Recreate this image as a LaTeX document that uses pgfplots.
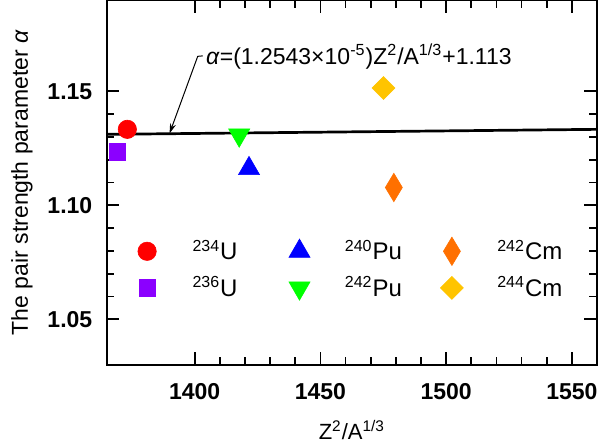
\documentclass[border=0pt]{standalone}
\usepackage{fontspec}
\setmainfont{Liberation Sans}
\usepackage{pgfplots}
\pgfplotsset{compat=1.18}
\usetikzlibrary{arrows.meta}
\definecolor{cred}{RGB}{255,0,0}
\definecolor{cpurple}{RGB}{139,0,255}
\definecolor{cblue}{RGB}{0,0,255}
\definecolor{cgreen}{RGB}{0,255,0}
\definecolor{corange}{RGB}{255,112,0}
\definecolor{cyellow}{RGB}{255,196,0}
\pgfplotsset{
  lgd/.style={only marks,
    legend image code/.code={\path (0pt,0pt) (45pt,0pt); \draw[mark repeat=2,mark phase=2,##1] plot coordinates {(0pt,0pt)(22.5pt,0pt)(45pt,0pt)};}}
}
\newcommand{\lent}[2]{\makebox[30.8pt][l]{\textsuperscript{#1}#2}}
\begin{document}
\begin{tikzpicture}
\begin{axis}[
  scale only axis, width=245.15pt, height=182.5pt,
  xmin=1365, xmax=1560, ymin=1.03, ymax=1.19,
  xtick={1400,1450,1500,1550}, ytick={1.05,1.10,1.15},
  minor x tick num=4, minor y tick num=4,
  tick align=inside, major tick length=6.3pt, minor tick length=3.8pt,
  every tick/.style={black, line width=0.9pt},
  axis line style={line width=1pt},
  /pgf/number format/assume math mode=true,
  xticklabel style={font=\fontsize{11.5}{13}\selectfont\bfseries, /pgf/number format/1000 sep={}, yshift=-5.6pt},
  yticklabel style={font=\fontsize{11.5}{13}\selectfont\bfseries, /pgf/number format/.cd, fixed, fixed zerofill, precision=2, /tikz/xshift=-3.7pt},
  xlabel={Z\textsuperscript{2}/A\textsuperscript{1/3}},
  ylabel={The pair strength parameter \textit{α}},
  xlabel style={font=\fontsize{11}{13}\selectfont, at={(axis description cs:0.5,-0.178)}, anchor=center},
  ylabel style={font=\fontsize{11.5}{13}\selectfont, at={(axis description cs:-0.1728,0.5)}, anchor=center},
  legend columns=3,
  legend style={draw=none, fill=none, inner sep=0pt, outer sep=0pt,
    at={(axis description cs:-0.0102,0.3504)}, anchor=north west,
    font=\fontsize{12}{14}\selectfont, nodes={inner sep=0pt}, column sep=0pt, row sep=5.5pt},
]
\addplot[black, line width=1.35pt, no marks, forget plot] coordinates {(1365,1.1311) (1560,1.1333)};
\addplot[lgd, color=cred, mark=*, mark size=4.6pt, mark options={solid, line width=0.3pt, draw=cred, fill=cred}] coordinates {(1373.2,1.1333)};
\addlegendentry{\lent{234}{U}}
\addplot[lgd, color=cblue, mark=triangle*, mark size=6.1pt, mark options={solid, line width=0.3pt, draw=cblue, fill=cblue}] coordinates {(1421.6,1.1161)};
\addlegendentry{\lent{240}{Pu}}
\addplot[lgd, color=corange, mark=diamond*, mark size=7.1pt, mark options={solid, line width=0.3pt, draw=corange, fill=corange, xscale=0.8}] coordinates {(1479.2,1.1078)};
\addlegendentry{\lent{242}{Cm}}
\addplot[lgd, color=cpurple, mark=square*, mark size=4.15pt, mark options={solid, line width=0.3pt, draw=cpurple, fill=cpurple}] coordinates {(1369.2,1.1235)};
\addlegendentry{\lent{236}{U}}
\addplot[lgd, color=cgreen, mark=triangle*, mark size=6.1pt, mark options={solid, line width=0.3pt, draw=cgreen, fill=cgreen, rotate=180}] coordinates {(1417.7,1.1308)};
\addlegendentry{\lent{242}{Pu}}
\addplot[lgd, color=cyellow, mark=square*, mark size=4.05pt, mark options={solid, line width=0.3pt, draw=cyellow, fill=cyellow, rotate=45}] coordinates {(1475.1,1.1514)};
\addlegendentry{\lent{244}{Cm}}
\node[anchor=west, inner sep=0pt, font=\fontsize{11.5}{13}\selectfont] at (axis cs:1404.4,1.1653)
  {\textit{α}=(1.2543×10\textsuperscript{-5})Z\textsuperscript{2}/A\textsuperscript{1/3}+1.113};
\draw[-{Stealth[length=5pt,width=3pt]}, line width=0.5pt] (axis cs:1403.2,1.1655) -- (axis cs:1401.2,1.1653) -- (axis cs:1390.0,1.1315);
\end{axis}
\pgfresetboundingbox
\useasboundingbox (-53.35pt,-38.5pt) rectangle (245.65pt,182.5pt);
\end{tikzpicture}
\end{document}
